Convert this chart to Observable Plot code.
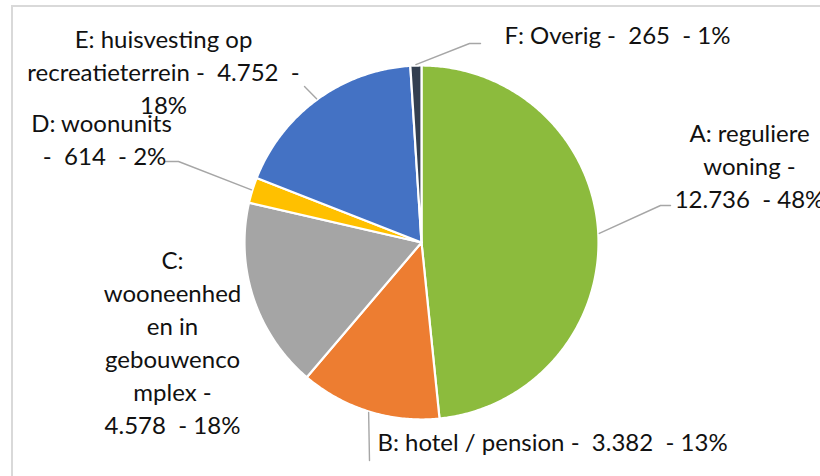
<!DOCTYPE html>
<html>
<head>
<meta charset="utf-8">
<script src="https://cdn.jsdelivr.net/npm/d3@7"></script>
<script src="https://cdn.jsdelivr.net/npm/@observablehq/plot@0.6"></script>
<style>
  html, body { margin: 0; padding: 0; background: #fff; }
  #wrap { position: relative; width: 820px; height: 476px; overflow: hidden; }
  #border { position: absolute; left: 11px; top: 5px; width: 900px; height: 600px;
            border-top: 2px solid #d9d9d9; border-left: 2px solid #d9d9d9; }
  #chart { position: absolute; left: 0; top: 0; }
  #chart svg text { white-space: pre; }
</style>
</head>
<body>
<div id="wrap"><div id="border"></div><div id="chart"></div></div>
<script>
// ---- data ----
const categories = ["A", "B", "C", "D", "E", "F"];
const categoryNames = [
  "A: reguliere\nwoning",
  "B: hotel / pension",
  "C:\nwooneenhed\nen in\ngebouwenco\nmplex",
  "D: woonunits",
  "E: huisvesting op\nrecreatieterrein",
  "F: Overig"
];
const values = [12736, 3382, 4578, 614, 4752, 265];
const valueLabels = ["12.736", "3.382", "4.578", "614", "4.752", "265"];
const percentLabels = ["48%", "13%", "18%", "2%", "18%", "1%"];
const colors = ["#8cbb3d", "#ed7d31", "#a5a5a5", "#ffc000", "#4472c4", "#333f50"];

// ---- layout ----
const W = 820, H = 476;
const cx = 421, cy = 242, R = 177;
const sep1 = [" -\n", " -  ", " -\n", "\n -  ", " -  ", " -  "];
const sep2 = ["  - ", "  - ", "  - ", "  - ", "  -\n", "  - "];
const labelPos = [[749, 164], [552, 440], [172, 340], [101, 137], [163, 70], [617, 33]];
// leader lines: elbow and end point (null = no leader)
const leaderEnds = [
  [[660, 205], [670, 205]],
  [[369, 460], [369, 460]],
  null,
  [[178, 161], [165, 161]],
  [[304, 86], [304, 86]],
  [[469, 43], [480, 43]]
];

const pie = d3.pie().sort(null).value(d => d.value)(
  categories.map((c, i) => ({key: c, value: values[i]}))
);

// slice polygons
const slicePts = [];
pie.forEach(p => {
  slicePts.push({key: p.data.key, x: cx, y: cy});
  const n = Math.max(2, Math.ceil((p.endAngle - p.startAngle) / 0.01));
  for (let k = 0; k <= n; k++) {
    const a = p.startAngle + (p.endAngle - p.startAngle) * k / n;
    slicePts.push({key: p.data.key, x: cx + R * Math.sin(a), y: cy - R * Math.cos(a)});
  }
});

// leader lines
const leaderPts = [];
pie.forEach((p, i) => {
  if (!leaderEnds[i]) return;
  const a = (p.startAngle + p.endAngle) / 2;
  leaderPts.push({key: categories[i], x: cx + (R + 1) * Math.sin(a), y: cy - (R + 1) * Math.cos(a)});
  leaderPts.push({key: categories[i], x: leaderEnds[i][0][0], y: leaderEnds[i][0][1]});
  leaderPts.push({key: categories[i], x: leaderEnds[i][1][0], y: leaderEnds[i][1][1]});
});

const labels = categories.map((c, i) => ({
  key: c,
  text: categoryNames[i] + sep1[i] + valueLabels[i] + sep2[i] + percentLabels[i],
  x: labelPos[i][0],
  y: labelPos[i][1]
}));

const chart = Plot.plot({
  width: W,
  height: H,
  margin: 0,
  x: {domain: [0, W], range: [0, W], axis: null},
  y: {domain: [0, H], range: [0, H], axis: null},
  color: {domain: categories, range: colors},
  style: {background: "transparent", fontFamily: "Lato, 'Open Sans', sans-serif"},
  marks: [
    Plot.line(slicePts, {x: "x", y: "y", z: "key", fill: "key", stroke: "white",
      strokeWidth: 2.2, curve: "linear-closed", strokeLinejoin: "round"}),
    Plot.line(leaderPts, {x: "x", y: "y", z: "key", stroke: "#a6a6a6", strokeWidth: 1.4}),
    Plot.text(labels, {x: "x", y: "y", text: "text", textAnchor: "middle",
      lineAnchor: "middle", lineHeight: 1.375, fontSize: 24, fill: "#111"})
  ]
});
document.getElementById("chart").appendChild(chart);
</script>
</body>
</html>
